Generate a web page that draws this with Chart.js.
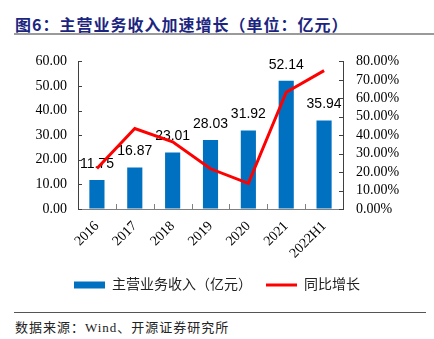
<!DOCTYPE html>
<html>
<head>
<meta charset="utf-8">
<script src="https://cdn.jsdelivr.net/npm/chart.js@4"></script>
<style>
  body { margin: 0; width: 434px; height: 339px; background: #fff; position: relative; overflow: hidden; }
  #title { position: absolute; left: 15px; top: 12px; font: bold 16px 'Noto Sans CJK SC'; letter-spacing: 1px; color: #1b2580; white-space: nowrap; }
  #titleRule { position: absolute; left: 14px; top: 33px; width: 420px; height: 2px; background: #9a9a9a; }
  #chartBox { position: absolute; left: 0; top: 40px; }
  #footRule { position: absolute; left: 14px; top: 312px; width: 412px; height: 1px; background: #555; }
  #source { position: absolute; left: 15px; top: 317px; font: 13px 'Liberation Serif', 'Noto Sans CJK SC'; letter-spacing: 1px; color: #222; white-space: nowrap; }
</style>
</head>
<body>
<div id="title">图6：主营业务收入加速增长（单位：亿元）</div>
<div id="titleRule"></div>
<div id="chartBox"><canvas id="chart" width="434" height="272"></canvas></div>
<div id="footRule"></div>
<div id="source">数据来源：Wind、开源证券研究所</div>
<script>
const years = ['2016', '2017', '2018', '2019', '2020', '2021', '2022H1']
const revenue = [11.75, 16.87, 23.01, 28.03, 31.92, 52.14, 35.94]
const growth = [22.0, 43.6, 36.4, 21.8, 13.9, 63.3, 75.0]

const serif = "'Liberation Serif', 'Noto Sans CJK SC'"

// value labels above the bars, drawn before the line so the line sits on top
const barLabels = {
  id: 'barLabels',
  afterDatasetDraw(chart, args) {
    if (args.index !== 0) return
    const ctx = chart.ctx
    ctx.save()
    ctx.font = "14px 'Liberation Sans'"
    ctx.fillStyle = '#000'
    ctx.textAlign = 'center'
    ctx.textBaseline = 'middle'
    args.meta.data.forEach((bar, i) => {
      ctx.fillText(revenue[i].toFixed(2), bar.x, bar.y - 16)
    })
    ctx.restore()
  }
}

// short tick marks pointing into the plot
const innerTicks = {
  id: 'innerTicks',
  afterDraw(chart) {
    const ctx = chart.ctx
    const { y, y1, x } = chart.scales
    ctx.save()
    ctx.lineWidth = 1
    ctx.strokeStyle = '#404040'
    y.ticks.forEach(t => {
      const py = Math.round(y.getPixelForValue(t.value)) + 0.5
      ctx.beginPath(); ctx.moveTo(y.right, py); ctx.lineTo(y.right + 4, py); ctx.stroke()
    })
    y1.ticks.forEach(t => {
      const py = Math.round(y1.getPixelForValue(t.value)) + 0.5
      ctx.beginPath(); ctx.moveTo(y1.left, py); ctx.lineTo(y1.left - 4, py); ctx.stroke()
    })
    ctx.strokeStyle = '#808080'
    const step = x.width / years.length
    for (let k = 1; k < years.length; k++) {
      const px = Math.round(x.left + k * step) + 0.5
      ctx.beginPath(); ctx.moveTo(px, x.top); ctx.lineTo(px, x.top - 5); ctx.stroke()
    }
    ctx.restore()
  }
}

new Chart(document.getElementById('chart'), {
  data: {
    labels: years,
    datasets: [
      {
        type: 'bar',
        label: '主营业务收入（亿元）',
        data: revenue,
        yAxisID: 'y',
        backgroundColor: '#0070c0',
        barPercentage: 0.4,
        categoryPercentage: 1,
        order: 1
      },
      {
        type: 'line',
        label: '同比增长',
        data: growth,
        yAxisID: 'y1',
        borderColor: '#ff0000',
        backgroundColor: '#ff0000',
        borderWidth: 3,
        pointRadius: 0,
        tension: 0,
        order: 0
      }
    ]
  },
  options: {
    responsive: false,
    devicePixelRatio: 1,
    animation: false,
    layout: { padding: { top: 12, left: 0, right: 0, bottom: 10 } },
    plugins: {
      tooltip: { enabled: false },
      legend: {
        position: 'bottom',
        labels: {
          font: { size: 14, family: serif },
          color: '#222',
          usePointStyle: true,
          pointStyleWidth: 31,
          boxHeight: 7,
          padding: 14,
          generateLabels(chart) {
            return chart.data.datasets.map((ds, i) => ({
              text: ds.label,
              datasetIndex: i,
              fillStyle: ds.backgroundColor,
              strokeStyle: ds.type === 'line' ? ds.borderColor : ds.backgroundColor,
              lineWidth: ds.type === 'line' ? 3 : 0,
              pointStyle: ds.type === 'line' ? 'line' : 'rect',
              fontColor: '#222'
            }))
          }
        }
      }
    },
    scales: {
      x: {
        grid: { display: true, drawOnChartArea: false, drawTicks: false },
        border: { color: '#808080', width: 1 },
        ticks: {
          font: { size: 14, family: serif },
          color: '#000',
          minRotation: 45,
          maxRotation: 45,
          padding: 9
        },
        afterFit(scale) { scale.height = 55 }
      },
      y: {
        position: 'left',
        min: 0,
        max: 60,
        grid: { display: true, drawOnChartArea: false, drawTicks: false },
        border: { color: '#404040', width: 1 },
        ticks: {
          stepSize: 10,
          padding: 11,
          autoSkip: false,
          font: { size: 14, family: serif },
          color: '#000',
          callback: v => v.toFixed(2)
        },
        afterFit(scale) { scale.width = 78 }
      },
      y1: {
        position: 'right',
        min: 0,
        max: 80,
        grid: { display: true, drawOnChartArea: false, drawTicks: false },
        border: { color: '#404040', width: 1 },
        ticks: {
          stepSize: 10,
          padding: 13,
          autoSkip: false,
          font: { size: 14, family: serif },
          color: '#000',
          callback: v => v.toFixed(2) + '%'
        },
        afterFit(scale) { scale.width = 91 }
      }
    }
  },
  plugins: [barLabels, innerTicks]
})
</script>
</body>
</html>
